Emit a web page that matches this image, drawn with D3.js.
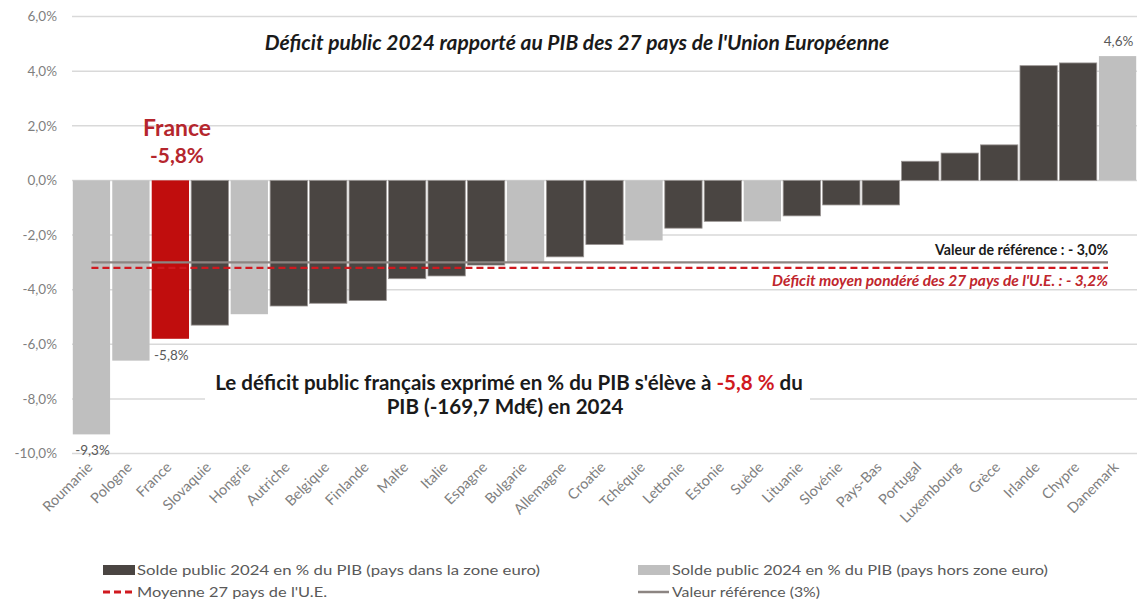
<!DOCTYPE html>
<html><head><meta charset="utf-8">
<script src="https://cdn.jsdelivr.net/npm/d3@7"></script>
<style>body{margin:0;background:#fff;}svg{display:block;}</style>
</head><body><svg id="c" width="1137" height="603"></svg>
<script>
const countries = ["Roumanie","Pologne","France","Slovaquie","Hongrie","Autriche","Belgique","Finlande","Malte","Italie","Espagne","Bulgarie","Allemagne","Croatie","Tchéquie","Lettonie","Estonie","Suède","Lituanie","Slovénie","Pays-Bas","Portugal","Luxembourg","Grèce","Irlande","Chypre","Danemark"];
const values = [-9.3,-6.6,-5.8,-5.3,-4.9,-4.6,-4.5,-4.4,-3.6,-3.5,-3.1,-3.0,-2.8,-2.35,-2.2,-1.75,-1.5,-1.5,-1.3,-0.9,-0.9,0.7,1.0,1.3,4.2,4.3,4.55];
const zone = ["hors","hors","euro","euro","hors","euro","euro","euro","euro","euro","euro","hors","euro","euro","hors","euro","euro","hors","euro","euro","euro","euro","euro","euro","euro","euro","hors"];
const yTicks = [6,4,2,0,-2,-4,-6,-8,-10];
const refValue = -3.0;
const euAverage = -3.2;
const valueLabels = [{c:"Roumanie",t:"-9,3%"},{c:"France",t:"-5,8%"},{c:"Danemark",t:"4,6%"}];

const svg = d3.select("#c");
const font = "Lato, 'Open Sans', sans-serif";
const x = d3.scaleBand().domain(countries).range([72,1137]).paddingInner(0.055).paddingOuter(0.02);
const y = d3.scaleLinear().domain([-10,6]).range([453.5,16.5]);
const fmt = v => d3.format(".1f")(v).replace(".",",").replace("−","-") + "%";

function fit(sel, w){
  const cur = sel.node().getComputedTextLength();
  const fs = parseFloat(sel.attr("font-size"));
  sel.attr("font-size", (fs*w/cur).toFixed(2));
  return sel;
}

// gridlines
svg.append("g").selectAll("line").data(yTicks).join("line")
  .attr("x1",72).attr("x2",1137).attr("y1",d=>y(d)).attr("y2",d=>y(d))
  .attr("stroke","#d9d9d9").attr("stroke-width",1.5);

// y axis labels
const yAxis = svg.append("g").attr("transform","translate(57,0)")
  .call(d3.axisLeft(y).tickValues(yTicks).tickFormat(fmt).tickSize(0).tickPadding(0));
yAxis.select(".domain").remove();
yAxis.selectAll("text").attr("font-family",font).attr("font-size",13.5).attr("fill","#7f7f7f");

// bars
const colorOf = (c,i) => c==="France" ? "#c00d0d" : (zone[i]==="euro" ? "#4a4542" : "#bfbfbf");
svg.append("g").selectAll("rect").data(countries).join("rect")
  .attr("x",d=>x(d)).attr("width",x.bandwidth())
  .attr("y",(d,i)=>y(Math.max(0,values[i])))
  .attr("height",(d,i)=>Math.abs(y(values[i])-y(0)))
  .attr("fill",(d,i)=>colorOf(d,i))
  .attr("stroke",(d,i)=>zone[i]==="euro" && d!=="France" ? "#9a9593" : "none").attr("stroke-width",0.8);

// white box behind annotation
svg.append("rect").attr("x",205).attr("y",366).attr("width",605).attr("height",54).attr("fill","#fff");

// reference lines
const lx1 = x("Roumanie")+x.bandwidth()/2, lx2 = 1108;
svg.append("line").attr("x1",lx1).attr("x2",lx2).attr("y1",y(refValue)).attr("y2",y(refValue))
  .attr("stroke","#8c8582").attr("stroke-width",2.2);
svg.append("line").attr("x1",lx1).attr("x2",lx2).attr("y1",y(euAverage)).attr("y2",y(euAverage))
  .attr("stroke","#d0191f").attr("stroke-width",2.2).attr("stroke-dasharray","7,4");

// x labels
svg.append("g").selectAll("text").data(countries).join("text")
  .attr("transform",d=>`translate(${x(d)+x.bandwidth()/2+2},${468}) rotate(-45)`)
  .attr("text-anchor","end").attr("font-family",font).attr("font-size",14.5).attr("fill","#7f7f7f")
  .text(d=>d);

// value labels
valueLabels.forEach(l=>{
  const i = countries.indexOf(l.c);
  const v = values[i];
  svg.append("text").attr("x",x(l.c)+x.bandwidth()/2+1)
    .attr("y", v<0 ? y(v)+21 : y(v)-10)
    .attr("text-anchor","middle").attr("font-family",font).attr("font-size",13.5).attr("fill","#595959").text(l.t);
});

// title
fit(svg.append("text").attr("x",577).attr("y",50).attr("text-anchor","middle").attr("font-family",font)
  .attr("font-size",16).attr("font-weight","bold").attr("font-style","italic").attr("fill","#1a1a1a")
  .text("Déficit public 2024 rapporté au PIB des 27 pays de l'Union Européenne"), 625);

// France annotation
const fx = 177;
fit(svg.append("text").attr("x",fx).attr("y",136).attr("text-anchor","middle").attr("font-family",font)
  .attr("font-size",19).attr("font-weight","bold").attr("fill","#b5262d").text("France"), 68);
fit(svg.append("text").attr("x",fx).attr("y",163).attr("text-anchor","middle").attr("font-family",font)
  .attr("font-size",19).attr("font-weight","bold").attr("fill","#b5262d").text("-5,8%"), 54);

// reference annotations
fit(svg.append("text").attr("x",1108).attr("y",255).attr("text-anchor","end").attr("font-family",font)
  .attr("font-size",12.5).attr("font-weight","bold").attr("fill","#1a1a1a").text("Valeur de référence : - 3,0%"), 173);
fit(svg.append("text").attr("x",1108).attr("y",286).attr("text-anchor","end").attr("font-family",font)
  .attr("font-size",12.5).attr("font-weight","bold").attr("font-style","italic").attr("fill","#c0262d")
  .text("Déficit moyen pondéré des 27 pays de l'U.E. : - 3,2%"), 336);

// main annotation
const ann = svg.append("text").attr("x",509).attr("y",390).attr("text-anchor","middle").attr("font-family",font)
  .attr("font-size",16.5).attr("font-weight","bold").attr("fill","#1a1a1a");
ann.append("tspan").text("Le déficit public français exprimé en % du PIB s'élève à ");
ann.append("tspan").attr("fill","#d0191f").text("-5,8 %");
ann.append("tspan").text(" du");
fit(ann, 588);
svg.append("text").attr("x",505).attr("y",414).attr("text-anchor","middle").attr("font-family",font)
  .attr("font-size",ann.attr("font-size")).attr("font-weight","bold").attr("fill","#1a1a1a").text("PIB (-169,7 Md€) en 2024");

// legend
const legend = [
  {x:103,y:570,type:"rect",color:"#4a4542",label:"Solde public 2024 en % du PIB (pays dans la zone euro)",w:403},
  {x:638,y:570,type:"rect",color:"#bfbfbf",label:"Solde public 2024 en % du PIB (pays hors zone euro)",w:376},
  {x:103,y:592,type:"dash",color:"#d0191f",label:"Moyenne 27 pays de l'U.E.",w:190},
  {x:638,y:592,type:"line",color:"#8c8582",label:"Valeur référence (3%)",w:148}
];
const lg = svg.append("g");
legend.forEach(l=>{
  if(l.type==="rect") lg.append("rect").attr("x",l.x).attr("y",l.y-5).attr("width",32).attr("height",10).attr("fill",l.color);
  else lg.append("line").attr("x1",l.x).attr("x2",l.x+31).attr("y1",l.y).attr("y2",l.y).attr("stroke",l.color)
    .attr("stroke-width",l.type==="dash"?3:2.5).attr("stroke-dasharray",l.type==="dash"?"7,4":null);
  lg.append("text").attr("x",l.x+34).attr("y",l.y+4.5).attr("font-family",font).attr("font-size",13)
    .attr("fill","#595959").text(l.label)
    .attr("textLength",l.w).attr("lengthAdjust","spacingAndGlyphs");
});
</script></body></html>
